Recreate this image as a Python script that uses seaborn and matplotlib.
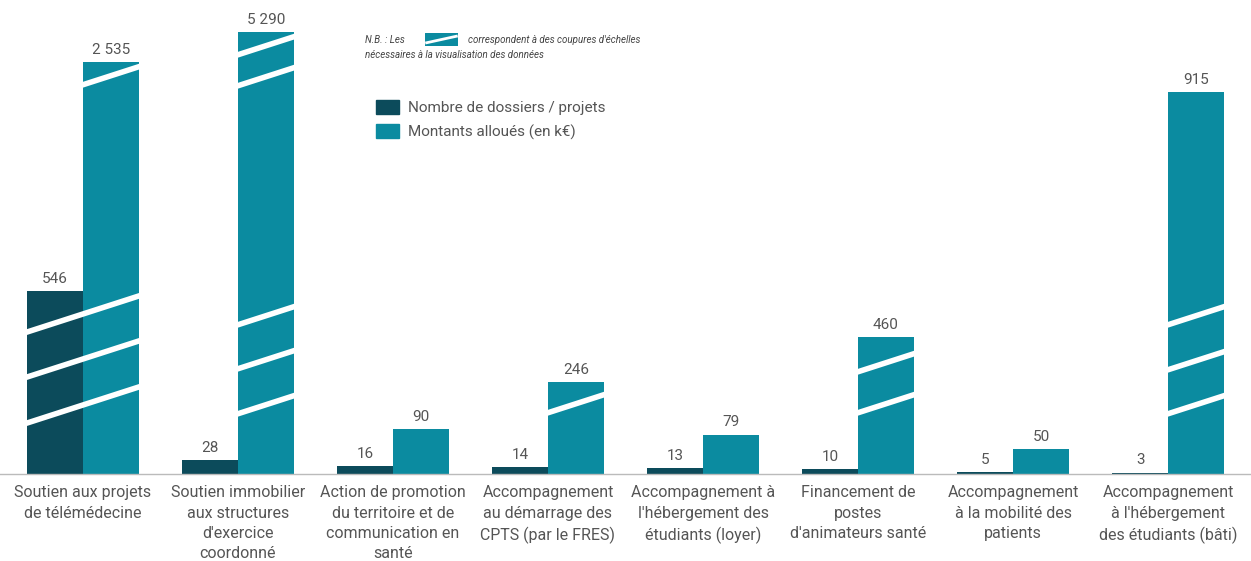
import matplotlib.pyplot as plt
import matplotlib.patches as mpatches
import pandas as pd
import seaborn as sns

# Data
categories = [
    "Soutien aux projets\nde télémédecine",
    "Soutien immobilier\naux structures\nd'exercice\ncoordonné",
    "Action de promotion\ndu territoire et de\ncommunication en\nsanté",
    "Accompagnement\nau démarrage des\nCPTS (par le FRES)",
    "Accompagnement à\nl'hébergement des\nétudiants (loyer)",
    "Financement de\npostes\nd'animateurs santé",
    "Accompagnement\nà la mobilité des\npatients",
    "Accompagnement\nà l'hébergement\ndes étudiants (bâti)",
]
series = ["Nombre de dossiers / projets", "Montants alloués (en k€)"]

dossiers = [546, 28, 16, 14, 13, 10, 5, 3]
montants = [2535, 5290, 90, 246, 79, 460, 50, 915]

# heights as drawn on the broken scale
dossiers_axe = [366, 28, 16, 14, 13, 10, 5, 3]
montants_axe = [824, 884, 90, 184, 79, 274, 50, 764]

# scale cuts (axis units) per bar
coupures_dossiers = [[138, 230, 320], [], [], [], [], [], [], []]
coupures_montants = [[138, 230, 320, 798], [140, 230, 318, 796, 858], [], [142],
                     [], [142, 224], [], [140, 228, 318]]

colors = ["#0c4b5b", "#0b8ba0"]

df = pd.DataFrame({
    "cat": categories * 2,
    "serie": [series[0]] * 8 + [series[1]] * 8,
    "h": dossiers_axe + montants_axe,
})

plt.rcParams['font.family'] = ['Roboto', 'DejaVu Sans']

fig = plt.figure(figsize=(12.51, 5.61), dpi=100)
ax = fig.add_axes([0, 87 / 561, 1, 474 / 561])

sns.barplot(data=df, x="cat", y="h", hue="serie", palette=colors,
            width=0.72, gap=0, saturation=1, ax=ax, legend=False)

ax.set_xlim(-0.535, 7.535)
ax.set_ylim(0, 948)
ax.set_yticks([])
ax.set_xlabel('')
ax.set_ylabel('')
for s in ['top', 'left', 'right']:
    ax.spines[s].set_visible(False)
ax.spines['bottom'].set_color('#bbbbbb')
ax.spines['bottom'].set_linewidth(1)
ax.tick_params(axis='x', length=0, pad=8, labelsize=11.5, labelcolor='#555555')
for t in ax.get_xticklabels():
    t.set_linespacing(1.45)
    t.set_verticalalignment('top')

# value labels
half = 0.36
for i in range(8):
    ax.text(i - half / 2, dossiers_axe[i] + 10, f"{dossiers[i]:,}".replace(',', ' '),
            ha='center', va='bottom', fontsize=11, color='#555555')
    ax.text(i + half / 2, montants_axe[i] + 10, f"{montants[i]:,}".replace(',', ' '),
            ha='center', va='bottom', fontsize=11, color='#555555')

# scale-cut marks (white slanted strokes)
slope = 100
for i in range(8):
    both = set(coupures_dossiers[i])
    for y in coupures_montants[i]:
        if y in both:
            x0, x1 = i - half - 0.03, i + half + 0.03
        else:
            x0, x1 = i - 0.02, i + half + 0.05
        xm = (x0 + x1) / 2
        ax.plot([x0, x1], [y + slope * (x0 - xm), y + slope * (x1 - xm)],
                color='white', lw=4, solid_capstyle='butt', zorder=5)

# legend
handles = [mpatches.Patch(color=c) for c in colors]
fig.legend(handles, series, loc='upper left', bbox_to_anchor=(362 / 1251, 1 - 86 / 561),
           frameon=False, fontsize=11, labelcolor='#555555', handlelength=1.5,
           handleheight=1.1, handletextpad=0.6, labelspacing=0.55)

# note
fig.text(365 / 1251, 1 - 40 / 561, "N.B. : Les", fontsize=7, color='#444444',
         va='center', style='italic')
fig.text(468 / 1251, 1 - 40 / 561, "correspondent à des coupures d'échelles",
         fontsize=7, color='#444444', va='center', style='italic')
fig.text(365 / 1251, 1 - 55 / 561, "nécessaires à la visualisation des données",
         fontsize=7, color='#444444', va='center', style='italic')
icon = fig.add_axes([425 / 1251, 1 - 46 / 561, 33 / 1251, 13 / 561])
icon.add_patch(mpatches.Rectangle((0, 0), 1, 1, color=colors[1]))
icon.plot([0.05, 0.95], [0.25, 0.75], color='white', lw=2)
icon.set_xlim(0, 1)
icon.set_ylim(0, 1)
icon.axis('off')

fig.savefig('out.png', dpi=100)
